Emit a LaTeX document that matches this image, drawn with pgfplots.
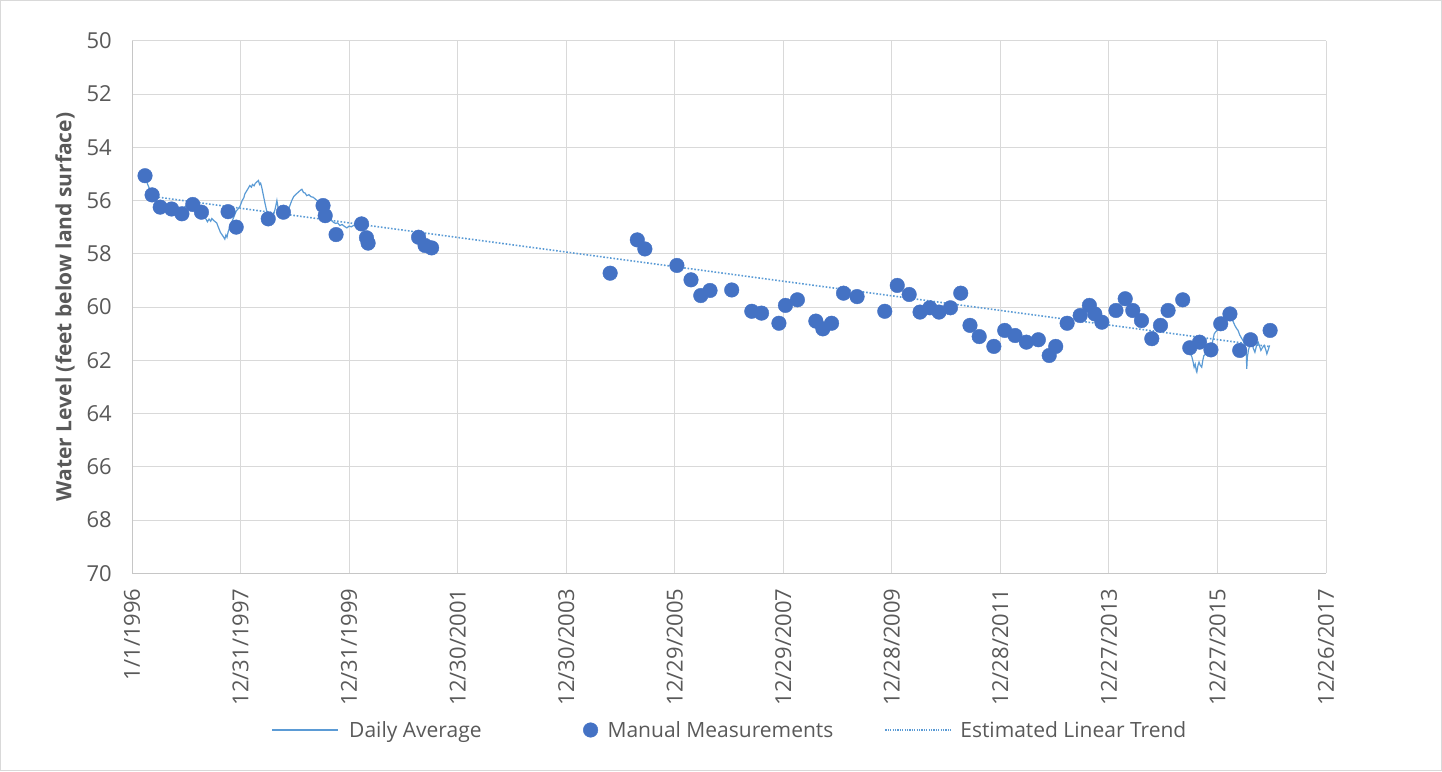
\documentclass[border=0pt]{standalone}
\usepackage{pgfplots}
\pgfplotsset{compat=1.18}
\usepackage{fontspec}
\setmainfont{Open Sans}
\definecolor{ptblue}{HTML}{4472C4}
\definecolor{lnblue}{HTML}{5B9BD5}
\definecolor{txtgray}{HTML}{595959}
\definecolor{gridgray}{HTML}{D9D9D9}
\definecolor{axgray}{HTML}{C6C6C6}
\begin{document}
\begin{tikzpicture}
\useasboundingbox (0pt,0pt) rectangle (1442pt,771pt);
\draw[gridgray, line width=1pt] (0.5pt,0.5pt) rectangle (1441.5pt,770.5pt);
\begin{axis}[
  at={(132pt,197.7pt)}, anchor=south west,
  scale only axis, width=1194pt, height=532.6pt,
  xmin=0, xmax=22, ymin=50, ymax=70, y dir=reverse,
  xtick={0,2,...,22},
  xticklabels={1/1/1996,12/31/1997,12/31/1999,12/30/2001,12/30/2003,12/29/2005,12/29/2007,12/28/2009,12/28/2011,12/27/2013,12/27/2015,12/26/2017},
  ytick={50,52,...,70},
  major tick length=0pt,
  grid=major,
  major grid style={gridgray, line width=0.9pt},
  axis x line*=bottom, axis y line*=left,
  axis line style={-, draw=axgray, line width=1pt},
  /pgf/number format/assume math mode=true,
  tick label style={font=\fontsize{22}{26}\selectfont, text=txtgray},
  yticklabel style={anchor=east, inner sep=0pt, xshift=-20pt},
  xticklabel style={rotate=90, anchor=east, inner ysep=0pt, inner xsep=15pt},
  ylabel={Water Level (feet below land surface)},
  every axis y label/.style={at={(axis description cs:-0.0561,0.5)}, rotate=90, anchor=center, font=\bfseries\fontsize{21}{24}\selectfont, text=txtgray},
  unbounded coords=jump,
  legend columns=3,
  legend style={at={(axis description cs:0.5000,-0.2942)}, anchor=center, draw=none, fill=none,
    inner sep=0pt, column sep=0pt, nodes={inner sep=0pt}, font=\fontsize{21}{24}\selectfont, text=txtgray},
  legend cell align=left,
]
\addplot[lnblue, line width=1.2pt,
  legend image code/.code={\path[draw=none] (0pt,0pt) -- (77pt,0pt); \draw (0pt,0pt) -- (66pt,0pt);}]
coordinates {
(0.24,55.10) (0.28,55.35) (0.33,55.60) (0.37,55.80) (0.42,55.95) (0.47,56.10) (0.52,56.22)
(0.58,56.20) (0.64,56.28) (0.70,56.25) (0.76,56.32) (0.82,56.30) (0.88,56.36) (0.94,56.28)
(1.00,56.20) (1.07,56.15) (1.12,56.10) (1.19,56.02) (1.24,56.15) (1.28,56.35) (1.33,56.60)
(1.37,56.72) (1.39,56.80) (1.42,56.70) (1.45,56.78) (1.47,56.68) (1.51,56.76) (1.56,56.84)
(1.60,57.05) (1.63,57.20) (1.65,57.26) (1.68,57.35) (1.71,57.45) (1.73,57.30) (1.75,57.38)
(1.77,57.19) (1.80,57.00) (1.84,56.80) (1.88,56.60) (1.92,56.40) (1.96,56.30) (1.99,56.22)
(2.03,56.00) (2.06,55.90) (2.08,55.75) (2.11,55.65) (2.14,55.55) (2.17,55.44) (2.20,55.50)
(2.22,55.40) (2.25,55.45) (2.27,55.36) (2.30,55.30) (2.33,55.25) (2.35,55.40) (2.37,55.35)
(2.39,55.50) (2.42,55.80) (2.45,56.10) (2.48,56.38) (2.52,56.50) (2.55,56.60) (2.57,56.63)
(2.60,56.55) (2.63,56.38) (2.65,56.20) (2.67,56.00) (2.69,56.25) (2.71,56.44) (2.75,56.40)
(2.80,56.48) (2.85,56.50) (2.89,56.30) (2.94,56.02) (2.98,55.85) (3.03,55.75) (3.07,55.68)
(3.10,55.62) (3.13,55.58) (3.16,55.70) (3.19,55.72) (3.22,55.82) (3.26,55.78) (3.30,55.86)
(3.34,55.88) (3.38,55.95) (3.42,56.02) (3.46,56.13) (3.50,56.25) (3.56,56.44) (3.62,56.62)
(3.66,56.70) (3.71,56.82) (3.75,56.86) (3.79,56.84) (3.83,56.94) (3.87,56.90) (3.92,56.98)
(3.96,57.03) (4.00,56.96) (4.04,56.99) (4.08,56.94) (4.12,56.90) (4.16,56.92) (4.20,56.88)
(4.25,nan)
(19.44,61.50) (19.46,61.57) (19.50,61.75) (19.53,61.88) (19.55,62.05) (19.57,62.26) (19.59,62.15)
(19.61,62.40) (19.62,62.45) (19.64,62.20) (19.66,62.07) (19.68,62.18) (19.71,62.26) (19.73,62.00)
(19.75,61.82) (19.79,61.76) (19.83,61.70) (19.86,61.60) (19.89,61.51) (19.92,61.20) (19.94,61.01)
(19.96,60.95) (19.99,60.88) (20.03,60.80) (20.08,60.63) (20.12,60.50) (20.17,60.38) (20.21,60.45)
(20.26,60.44) (20.29,60.55) (20.32,60.69) (20.35,60.80) (20.38,60.88) (20.41,61.05) (20.45,61.19)
(20.48,61.30) (20.51,61.44) (20.53,61.70) (20.54,62.32) (20.55,61.90) (20.57,61.63) (20.60,61.40)
(20.63,61.32) (20.66,61.55) (20.69,61.70) (20.72,61.45) (20.75,61.32) (20.78,61.50) (20.80,61.63)
(20.83,61.52) (20.86,61.44) (20.89,61.60) (20.91,61.76) (20.94,61.58) (20.96,61.44)
};
\addlegendentry{Daily Average}
\addplot[only marks, mark=*, mark size=7.3pt, mark options={fill=ptblue, draw=ptblue},
  legend image code/.code={\path[draw=none] (-109pt,0pt) -- (17pt,0pt); \draw plot coordinates {(0pt,0pt)};}]
coordinates {
(0.24,55.07) (0.37,55.79) (0.52,56.25) (0.73,56.32) (0.92,56.50) (1.12,56.15) (1.28,56.44)
(1.77,56.42) (1.92,57.00) (2.51,56.69) (2.79,56.44) (3.52,56.19) (3.56,56.57) (3.76,57.28)
(4.23,56.88) (4.32,57.40) (4.35,57.60) (5.28,57.38) (5.40,57.69) (5.52,57.78)
(8.81,58.73) (9.31,57.48) (9.45,57.82) (10.04,58.44) (10.30,58.98) (10.48,59.57) (10.65,59.38)
(11.05,59.36) (11.42,60.16) (11.60,60.23) (11.92,60.61) (12.04,59.94) (12.26,59.73) (12.60,60.53)
(12.73,60.82) (12.89,60.61) (13.11,59.48) (13.36,59.61) (13.87,60.16) (14.10,59.19) (14.32,59.53)
(14.52,60.19) (14.70,60.03) (14.87,60.19) (15.08,60.03) (15.27,59.48) (15.44,60.69) (15.61,61.11)
(15.88,61.48) (16.08,60.88) (16.27,61.07) (16.48,61.32) (16.70,61.23) (16.90,61.82) (17.02,61.48)
(17.23,60.61) (17.47,60.32) (17.64,59.94) (17.74,60.26) (17.87,60.57) (18.13,60.13) (18.30,59.69)
(18.44,60.13) (18.60,60.51) (18.79,61.19) (18.95,60.69) (19.09,60.13) (19.36,59.73) (19.49,61.53)
(19.67,61.32) (19.88,61.61) (20.06,60.63) (20.23,60.26) (20.41,61.63) (20.61,61.23) (20.97,60.88)
};
\addlegendentry{Manual Measurements}
\addplot[lnblue, line width=1.6pt, dash pattern=on 1.6pt off 1.8pt,
  legend image code/.code={\path[draw=none] (-52pt,0pt) -- (75pt,0pt); \draw[line width=1.2pt, dash pattern=on 1.2pt off 1.2pt] (0pt,0pt) -- (66pt,0pt);}]
coordinates {(0.24,55.81) (20.97,61.49)};
\addlegendentry{Estimated Linear Trend}
\end{axis}
\end{tikzpicture}
\end{document}
